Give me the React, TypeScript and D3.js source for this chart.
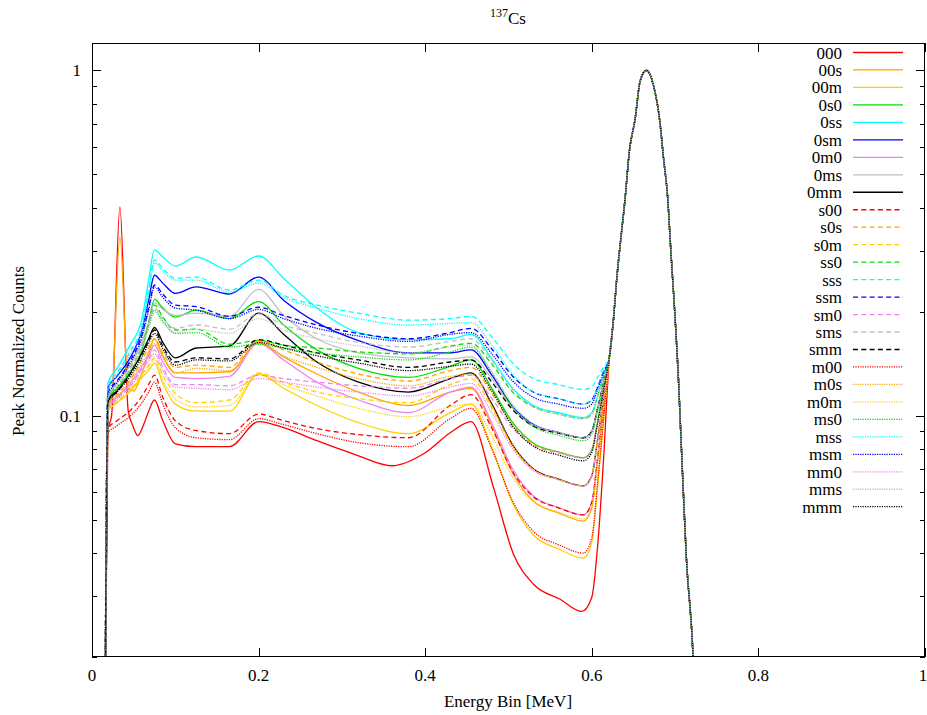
import React from 'react';
import * as d3 from 'd3';

// ---------- data ----------
const SERIES_NAMES = ['000','00s','00m','0s0','0ss','0sm','0m0','0ms','0mm','s00','s0s','s0m','ss0','sss','ssm','sm0','sms','smm','m00','m0s','m0m','ms0','mss','msm','mm0','mms','mmm'];

// common energy knots (MeV) used by most series
const E_KNOTS = [0.0155, 0.019, 0.03, 0.045, 0.06, 0.068, 0.075, 0.085, 0.1, 0.125, 0.165, 0.2, 0.23, 0.27, 0.32, 0.38, 0.43, 0.455, 0.48, 0.505, 0.53, 0.56, 0.59, 0.6, 0.607, 0.614];
// knots for the two series with the low-energy x-ray spike
const E_KNOTS_000 = [0.0155, 0.019, 0.0235, 0.0335, 0.0435, 0.049, 0.055, 0.062, 0.068, 0.075, 0.085, 0.1, 0.125, 0.165, 0.2, 0.23, 0.27, 0.32, 0.36, 0.4, 0.43, 0.455, 0.482, 0.506, 0.53, 0.562, 0.588, 0.6, 0.607, 0.614];
const E_KNOTS_00S = [0.0155, 0.019, 0.0235, 0.0335, 0.0435, 0.05, 0.06, 0.068, 0.075, 0.085, 0.1, 0.125, 0.165, 0.2, 0.23, 0.27, 0.32, 0.38, 0.43, 0.455, 0.48, 0.505, 0.53, 0.56, 0.59, 0.6, 0.607, 0.614];

// shared photopeak (all series coincide here)
const PEAK_E = [0.621, 0.626, 0.630, 0.635, 0.640, 0.645, 0.652, 0.658, 0.6655, 0.674, 0.682, 0.686, 0.691, 0.695, 0.700, 0.704, 0.707, 0.7135, 0.7216, 0.726];
const PEAK_V = [0.147, 0.19, 0.25, 0.328, 0.426, 0.58, 0.723, 0.93, 1.0, 0.905, 0.70, 0.56, 0.43, 0.297, 0.192, 0.128, 0.0868, 0.0389, 0.02, 0.01];

const V_000 = [0.012, 0.0905, 0.100, 0.402, 0.103, 0.0935, 0.0875, 0.0942, 0.103, 0.111, 0.0967, 0.0829, 0.0813, 0.0813, 0.0961, 0.0923, 0.0846, 0.0765, 0.0716, 0.0781, 0.0892, 0.0961, 0.0619, 0.0397, 0.0325, 0.0294, 0.0271, 0.0298, 0.0419, 0.0740];
const V_00s = [0.012, 0.107, 0.112, 0.329, 0.120, 0.118, 0.133, 0.152, 0.167, 0.149, 0.133, 0.133, 0.134, 0.163, 0.148, 0.132, 0.117, 0.107, 0.117, 0.120, 0.0935, 0.0681, 0.0565, 0.0523, 0.0495, 0.0540, 0.0734, 0.104];
const V_00m = [0.012, 0.103, 0.109, 0.117, 0.129, 0.135, 0.142, 0.124, 0.108, 0.103, 0.103, 0.132, 0.120, 0.107, 0.0954, 0.0887, 0.102, 0.108, 0.0808, 0.0559, 0.0451, 0.0411, 0.0387, 0.0430, 0.0626, 0.0961];
const V_0s0 = [0.012, 0.112, 0.120, 0.133, 0.155, 0.186, 0.217, 0.205, 0.193, 0.202, 0.191, 0.214, 0.183, 0.155, 0.137, 0.129, 0.139, 0.145, 0.120, 0.0954, 0.0832, 0.0785, 0.0755, 0.0796, 0.0961, 0.119];
const V_0ss = [0.012, 0.124, 0.137, 0.159, 0.191, 0.247, 0.302, 0.288, 0.271, 0.288, 0.264, 0.290, 0.250, 0.205, 0.174, 0.166, 0.167, 0.172, 0.146, 0.120, 0.107, 0.102, 0.0987, 0.102, 0.114, 0.130];
const V_0sm = [0.012, 0.120, 0.130, 0.146, 0.177, 0.216, 0.255, 0.242, 0.226, 0.236, 0.225, 0.252, 0.216, 0.186, 0.165, 0.152, 0.152, 0.155, 0.131, 0.106, 0.0942, 0.0894, 0.0863, 0.0901, 0.105, 0.124];
const V_0m0 = [0.012, 0.106, 0.113, 0.123, 0.139, 0.149, 0.160, 0.143, 0.129, 0.128, 0.130, 0.162, 0.145, 0.125, 0.111, 0.102, 0.117, 0.121, 0.0950, 0.0700, 0.0585, 0.0542, 0.0516, 0.0561, 0.0753, 0.105];
const V_0ms = [0.012, 0.114, 0.124, 0.139, 0.163, 0.186, 0.212, 0.203, 0.195, 0.198, 0.194, 0.232, 0.195, 0.167, 0.152, 0.147, 0.146, 0.148, 0.128, 0.105, 0.0936, 0.0892, 0.0863, 0.0901, 0.105, 0.124];
const V_0mm = [0.012, 0.111, 0.118, 0.132, 0.152, 0.167, 0.180, 0.163, 0.147, 0.157, 0.159, 0.198, 0.172, 0.143, 0.125, 0.117, 0.128, 0.133, 0.108, 0.0822, 0.0701, 0.0655, 0.0626, 0.0670, 0.0852, 0.112];
const V_s00 = [0.012, 0.0917, 0.0967, 0.103, 0.114, 0.123, 0.131, 0.113, 0.0967, 0.0905, 0.0887, 0.101, 0.0967, 0.0917, 0.0881, 0.0863, 0.107, 0.115, 0.0919, 0.0688, 0.0582, 0.0541, 0.0516, 0.0561, 0.0753, 0.105];
const V_s0s = [0.012, 0.108, 0.115, 0.126, 0.145, 0.157, 0.167, 0.152, 0.138, 0.140, 0.138, 0.165, 0.155, 0.143, 0.132, 0.126, 0.135, 0.138, 0.116, 0.0938, 0.0826, 0.0783, 0.0755, 0.0796, 0.0961, 0.119];
const V_s0m = [0.012, 0.104, 0.110, 0.118, 0.132, 0.140, 0.147, 0.131, 0.116, 0.109, 0.111, 0.133, 0.125, 0.117, 0.112, 0.109, 0.123, 0.128, 0.105, 0.0810, 0.0697, 0.0653, 0.0626, 0.0670, 0.0852, 0.112];
const V_ss0 = [0.012, 0.113, 0.121, 0.136, 0.160, 0.186, 0.209, 0.193, 0.177, 0.178, 0.161, 0.165, 0.160, 0.157, 0.153, 0.151, 0.159, 0.162, 0.141, 0.117, 0.106, 0.101, 0.0980, 0.101, 0.114, 0.129];
const V_sss = [0.012, 0.121, 0.133, 0.152, 0.183, 0.231, 0.282, 0.267, 0.250, 0.252, 0.231, 0.247, 0.223, 0.209, 0.198, 0.189, 0.191, 0.194, 0.169, 0.142, 0.128, 0.123, 0.119, 0.121, 0.129, 0.138];
const V_ssm = [0.012, 0.117, 0.126, 0.143, 0.172, 0.205, 0.239, 0.225, 0.209, 0.207, 0.194, 0.206, 0.195, 0.183, 0.173, 0.167, 0.174, 0.179, 0.156, 0.130, 0.117, 0.112, 0.108, 0.111, 0.121, 0.134];
const V_sm0 = [0.012, 0.105, 0.112, 0.121, 0.137, 0.146, 0.155, 0.138, 0.123, 0.123, 0.122, 0.131, 0.128, 0.125, 0.122, 0.120, 0.128, 0.131, 0.112, 0.0920, 0.0820, 0.0780, 0.0755, 0.0796, 0.0961, 0.119];
const V_sms = [0.012, 0.114, 0.122, 0.137, 0.160, 0.183, 0.205, 0.191, 0.179, 0.183, 0.178, 0.197, 0.183, 0.173, 0.163, 0.158, 0.164, 0.167, 0.144, 0.119, 0.106, 0.101, 0.0980, 0.101, 0.114, 0.129];
const V_smm = [0.012, 0.110, 0.117, 0.131, 0.151, 0.165, 0.177, 0.159, 0.143, 0.147, 0.146, 0.166, 0.160, 0.152, 0.145, 0.138, 0.143, 0.145, 0.125, 0.104, 0.0932, 0.0890, 0.0863, 0.0901, 0.105, 0.124];
const V_m00 = [0.012, 0.0887, 0.0935, 0.0993, 0.109, 0.117, 0.125, 0.108, 0.0923, 0.0863, 0.0852, 0.0980, 0.0942, 0.0887, 0.0835, 0.0813, 0.0980, 0.105, 0.0800, 0.0565, 0.0462, 0.0423, 0.0400, 0.0444, 0.0640, 0.0971];
const V_m0s = [0.012, 0.107, 0.114, 0.125, 0.142, 0.152, 0.162, 0.147, 0.133, 0.137, 0.135, 0.162, 0.149, 0.138, 0.128, 0.122, 0.130, 0.132, 0.107, 0.0820, 0.0700, 0.0655, 0.0626, 0.0670, 0.0852, 0.112];
const V_m0m = [0.012, 0.103, 0.109, 0.117, 0.131, 0.138, 0.145, 0.127, 0.112, 0.106, 0.107, 0.132, 0.123, 0.114, 0.105, 0.0993, 0.106, 0.108, 0.0874, 0.0662, 0.0563, 0.0526, 0.0502, 0.0547, 0.0740, 0.104];
const V_ms0 = [0.012, 0.111, 0.120, 0.133, 0.157, 0.181, 0.202, 0.188, 0.173, 0.174, 0.158, 0.161, 0.157, 0.152, 0.148, 0.145, 0.153, 0.158, 0.133, 0.106, 0.0929, 0.0878, 0.0846, 0.0884, 0.103, 0.123];
const V_mss = [0.012, 0.118, 0.131, 0.149, 0.179, 0.226, 0.277, 0.262, 0.247, 0.247, 0.228, 0.242, 0.220, 0.205, 0.191, 0.183, 0.185, 0.186, 0.160, 0.132, 0.117, 0.112, 0.108, 0.111, 0.121, 0.134];
const V_msm = [0.012, 0.115, 0.125, 0.141, 0.169, 0.202, 0.236, 0.220, 0.205, 0.202, 0.191, 0.203, 0.191, 0.179, 0.170, 0.164, 0.172, 0.174, 0.151, 0.126, 0.113, 0.108, 0.105, 0.108, 0.119, 0.132];
const V_mm0 = [0.012, 0.105, 0.111, 0.120, 0.135, 0.144, 0.151, 0.135, 0.121, 0.120, 0.119, 0.128, 0.125, 0.121, 0.117, 0.114, 0.121, 0.124, 0.102, 0.0800, 0.0694, 0.0652, 0.0626, 0.0670, 0.0852, 0.112];
const V_mms = [0.012, 0.112, 0.121, 0.135, 0.157, 0.179, 0.199, 0.186, 0.174, 0.178, 0.173, 0.191, 0.177, 0.167, 0.159, 0.152, 0.158, 0.160, 0.134, 0.108, 0.0947, 0.0895, 0.0863, 0.0901, 0.105, 0.124];
const V_mmm = [0.012, 0.109, 0.117, 0.129, 0.148, 0.162, 0.173, 0.156, 0.140, 0.145, 0.144, 0.163, 0.157, 0.149, 0.142, 0.135, 0.139, 0.141, 0.118, 0.0933, 0.0815, 0.0769, 0.0740, 0.0782, 0.0949, 0.118];

const SERIES_VALUES = [V_000, V_00s, V_00m, V_0s0, V_0ss, V_0sm, V_0m0, V_0ms, V_0mm, V_s00, V_s0s, V_s0m, V_ss0, V_sss, V_ssm, V_sm0, V_sms, V_smm, V_m00, V_m0s, V_m0m, V_ms0, V_mss, V_msm, V_mm0, V_mms, V_mmm];

const Y_TICK_LABELS = [0.1, 1];
const X_TICKS = [0, 0.2, 0.4, 0.6, 0.8, 1];

// ---------- styles ----------
const PALETTE = ['#ff0000', '#ffa500', '#ffd000', '#00e000', '#00ffff', '#0000ff', '#ee82ee', '#c0c0c0', '#000000'];
const DASHES = [null, '5,3.3', '1.2,1.2'];
const FONT = "'Liberation Serif', 'Times New Roman', serif";

export default function App() {
  const W = 927, H = 715;
  const L = 92, R = 925, T = 43, B = 657;
  const x = d3.scaleLinear().domain([0, 1]).range([L, R]);
  const y = d3.scaleLog().domain([0.02, 1.2]).range([B, T]);

  const line = d3.line<[number, number]>()
    .x(d => x(d[0]))
    .y(d => y(Math.max(d[1], 0.004)))
    .curve(d3.curveMonotoneX);

  const series = SERIES_NAMES.map((name, i) => {
    const knots = name === '000' ? E_KNOTS_000 : name === '00s' ? E_KNOTS_00S : E_KNOTS;
    const vals = SERIES_VALUES[i];
    const n = Math.min(knots.length, vals.length);
    const pts: [number, number][] = [];
    for (let k = 0; k < n; k++) pts.push([knots[k], vals[k]]);
    for (let k = 0; k < PEAK_E.length; k++) pts.push([PEAK_E[k], PEAK_V[k]]);
    return {
      name,
      color: PALETTE[i % 9],
      dash: DASHES[Math.floor(i / 9)],
      d: line(pts) || '',
    };
  });

  const yTicks = y.ticks();
  const isMajor = (v: number) => Math.abs(Math.log10(v) - Math.round(Math.log10(v))) < 1e-6;

  const legendTop = 52.5;
  const legendStep = 17.47;

  return (
    <svg width={W} height={H} style={{ position: 'absolute', left: 0, top: 0, background: '#fff' }} fontFamily={FONT}>
      <rect x={0} y={0} width={W} height={H} fill="#fff" />
      <defs>
        <clipPath id="plotclip">
          <rect x={L} y={T} width={R - L} height={B - T} />
        </clipPath>
      </defs>

      {/* ticks */}
      <g stroke="#000" strokeWidth={1}>
        {X_TICKS.map(t => (
          <g key={'xt' + t}>
            <line x1={Math.round(x(t)) + 0.5} x2={Math.round(x(t)) + 0.5} y1={B} y2={B - 9} />
            <line x1={Math.round(x(t)) + 0.5} x2={Math.round(x(t)) + 0.5} y1={T} y2={T + 9} />
          </g>
        ))}
        {yTicks.map(t => {
          const len = isMajor(t) ? 9 : 5;
          const yy = Math.round(y(t)) + 0.5;
          return (
            <g key={'yt' + t}>
              <line x1={L} x2={L + len} y1={yy} y2={yy} />
              <line x1={R} x2={R - len} y1={yy} y2={yy} />
            </g>
          );
        })}
      </g>

      {/* tick labels */}
      <g fontSize={17} fill="#000">
        {X_TICKS.map(t => (
          <text key={'xl' + t} x={t === 1 ? x(t) - 2 : x(t)} y={681} textAnchor="middle">{String(t)}</text>
        ))}
        {Y_TICK_LABELS.map(t => (
          <text key={'yl' + t} x={81} y={y(t) + 6} textAnchor="end">{String(t)}</text>
        ))}
      </g>

      {/* data lines */}
      <g clipPath="url(#plotclip)" fill="none">
        {series.map(s => (
          <path key={s.name} d={s.d} stroke={s.color} strokeWidth={1.3}
            strokeDasharray={s.dash || undefined} />
        ))}
      </g>

      {/* frame */}
      <rect x={L + 0.5} y={T + 0.5} width={R - L - 1} height={B - T - 1} fill="none" stroke="#000" strokeWidth={1} />

      {/* legend */}
      <g fontSize={17}>
        {series.map((s, i) => {
          const yy = legendTop + i * legendStep;
          return (
            <g key={'lg' + s.name}>
              <text x={842} y={yy + 6} textAnchor="end" fill="#000">{s.name}</text>
              <line x1={853} x2={903} y1={yy} y2={yy} stroke={s.color} strokeWidth={1.3}
                strokeDasharray={s.dash || undefined} />
            </g>
          );
        })}
      </g>

      {/* axis titles */}
      <text x={508} y={707} textAnchor="middle" fontSize={17}>Energy Bin [MeV]</text>
      <text transform={`translate(24, 351) rotate(-90)`} textAnchor="middle" fontSize={17}>Peak Normalized Counts</text>
      <text x={508} y={24} textAnchor="middle" fontSize={17}>
        <tspan fontSize={12} dy={-7}>137</tspan>
        <tspan dy={7}>Cs</tspan>
      </text>
    </svg>
  );
}
